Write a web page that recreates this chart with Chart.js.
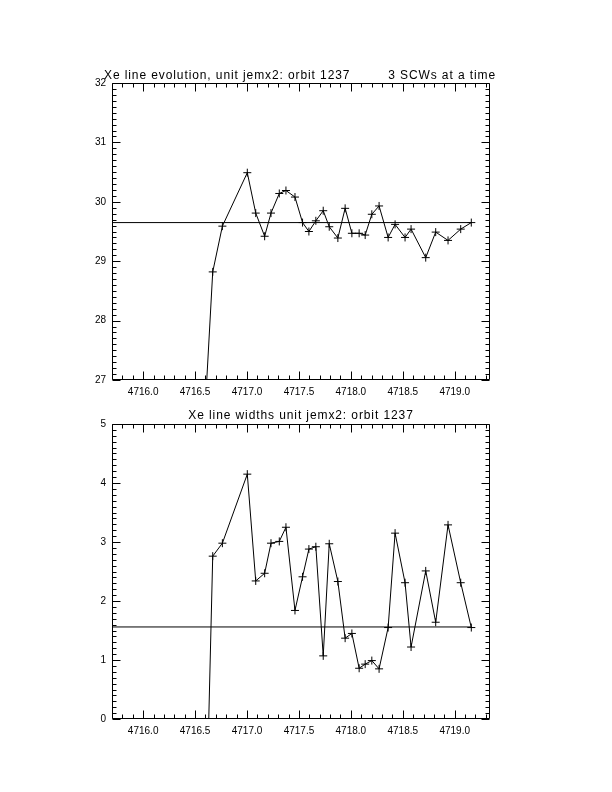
<!DOCTYPE html>
<html>
<head>
<meta charset="utf-8">
<script src="https://cdn.jsdelivr.net/npm/chart.js@4"></script>
<style>
  body { margin: 0; background: #fff; }
  #page { position: relative; width: 612px; height: 792px; }
  canvas { position: absolute; left: 0; }
  .ttl { position: absolute; font: 12px "Liberation Sans", sans-serif; letter-spacing: 0.9px; color: #000; white-space: nowrap; }
</style>
</head>
<body>
<div id="page">
  <canvas id="evo" width="612" height="396" style="top:0"></canvas>
  <canvas id="wid" width="612" height="396" style="top:396px"></canvas>
  <div class="ttl" style="left:104px; top:68px">Xe line evolution, unit jemx2: orbit 1237</div>
  <div class="ttl" style="right:116px; top:68px">3 SCWs at a time</div>
  <div class="ttl" style="left:0; width:602px; text-align:center; top:408px">Xe line widths unit jemx2: orbit 1237</div>
</div>
<script>
// times of the 3-SCW groups (days), first one falls off the bottom of both plots
const times = [4716.60, 4716.670, 4716.763, 4717.003, 4717.084, 4717.170, 4717.231, 4717.311,
  4717.375, 4717.462, 4717.535, 4717.596, 4717.663, 4717.734, 4717.792, 4717.875,
  4717.945, 4718.010, 4718.080, 4718.138, 4718.202, 4718.272, 4718.359, 4718.426,
  4718.522, 4718.580, 4718.721, 4718.817, 4718.936, 4719.058, 4719.160];
const lineEnergy = [26.6, 28.82, 29.59, 30.49, 29.81, 29.42, 29.81, 30.14,
  30.19, 30.08, 29.65, 29.50, 29.68, 29.85, 29.58, 29.39,
  29.89, 29.47, 29.47, 29.44, 29.79, 29.93, 29.40, 29.62,
  29.40, 29.54, 29.06, 29.49, 29.35, 29.54, 29.65];
const lineWidth = [-2.3, 2.76, 2.98, 4.15, 2.34, 2.47, 2.98, 3.01,
  3.25, 1.84, 2.41, 2.88, 2.92, 1.07, 2.97, 2.33,
  1.37, 1.45, 0.86, 0.93, 0.99, 0.85, 1.55, 3.15,
  2.31, 1.22, 2.51, 1.64, 3.29, 2.31, 1.55];
const energyMean = 29.65;
const widthMean = 1.56;
const xTicks = [4716.0, 4716.5, 4717.0, 4717.5, 4718.0, 4718.5, 4719.0];
const energyTicks = [27, 28, 29, 30, 31, 32];
const widthTicks = [0, 1, 2, 3, 4, 5];
const X_MIN = 4715.70, X_MAX = 4719.34;

const FONT = { family: 'Liberation Sans', size: 10 };

// IDL style box: frame on all four sides, ticks pointing inwards
const frameTicks = {
  id: 'frameTicks',
  afterDraw(chart) {
    const { ctx, chartArea: a, scales: { x, y } } = chart;
    const L = Math.round(a.left) + 0.5, R = Math.round(a.right) - 0.5;
    const T = Math.round(a.top) + 0.5, B = Math.round(a.bottom) - 0.5;
    ctx.save();
    ctx.strokeStyle = '#000';
    ctx.lineWidth = 1;
    ctx.beginPath();
    ctx.rect(L, T, R - L, B - T);
    for (let k = Math.ceil(x.min * 10 - 1e-6); k <= Math.floor(x.max * 10 + 1e-6); k++) {
      const px = Math.round(x.getPixelForValue(k / 10)) + 0.5;
      const len = k % 5 === 0 ? 8 : 4;
      ctx.moveTo(px, B); ctx.lineTo(px, B - len);
      ctx.moveTo(px, T); ctx.lineTo(px, T + len);
    }
    for (let k = Math.ceil(y.min * 10 - 1e-6); k <= Math.floor(y.max * 10 + 1e-6); k++) {
      const py = Math.round(y.getPixelForValue(k / 10)) + 0.5;
      const len = k % 10 === 0 ? 8 : 4;
      ctx.moveTo(L, py); ctx.lineTo(L + len, py);
      ctx.moveTo(R, py); ctx.lineTo(R - len, py);
    }
    ctx.stroke();
    ctx.restore();
  }
};

function makePanel(id, values, mean, yTicks, padTop, xHeight) {
  const pts = times.map((t, i) => ({ x: t, y: values[i] }));
  new Chart(document.getElementById(id), {
    type: 'scatter',
    data: {
      datasets: [
        {
          data: pts,
          showLine: true,
          borderColor: '#000',
          borderWidth: 1,
          pointStyle: 'cross',
          pointRadius: 4,
          pointBorderColor: '#000',
          pointBorderWidth: 1,
        },
        {
          data: [{ x: X_MIN, y: mean }, { x: times[times.length - 1], y: mean }],
          showLine: true,
          borderColor: '#000',
          borderWidth: 1,
          pointRadius: 0,
        },
      ],
    },
    options: {
      responsive: false,
      animation: false,
      layout: { padding: { left: 0, right: 122, top: padTop, bottom: 0 } },
      plugins: { legend: { display: false }, tooltip: { enabled: false } },
      scales: {
        x: {
          type: 'linear',
          min: X_MIN,
          max: X_MAX,
          afterBuildTicks: (s) => { s.ticks = xTicks.map((v) => ({ value: v })); },
          afterFit: (s) => { s.height = xHeight; },
          grid: { display: false, drawTicks: false },
          border: { display: false },
          ticks: { color: '#000', font: FONT, padding: 6, maxRotation: 0, autoSkip: false,
                   callback: (v) => v.toFixed(1) },
        },
        y: {
          min: yTicks[0],
          max: yTicks[yTicks.length - 1],
          afterBuildTicks: (s) => { s.ticks = yTicks.map((v) => ({ value: v })); },
          afterFit: (s) => { s.width = 112; },
          grid: { display: false, drawTicks: false },
          border: { display: false },
          ticks: { color: '#000', font: FONT, padding: 6, autoSkip: false,
                   callback: (v) => String(v) },
        },
      },
    },
    plugins: [frameTicks],
  });
}

makePanel('evo', lineEnergy, energyMean, energyTicks, 83, 16);
makePanel('wid', lineWidth, widthMean, widthTicks, 28, 73);
</script>
</body>
</html>
